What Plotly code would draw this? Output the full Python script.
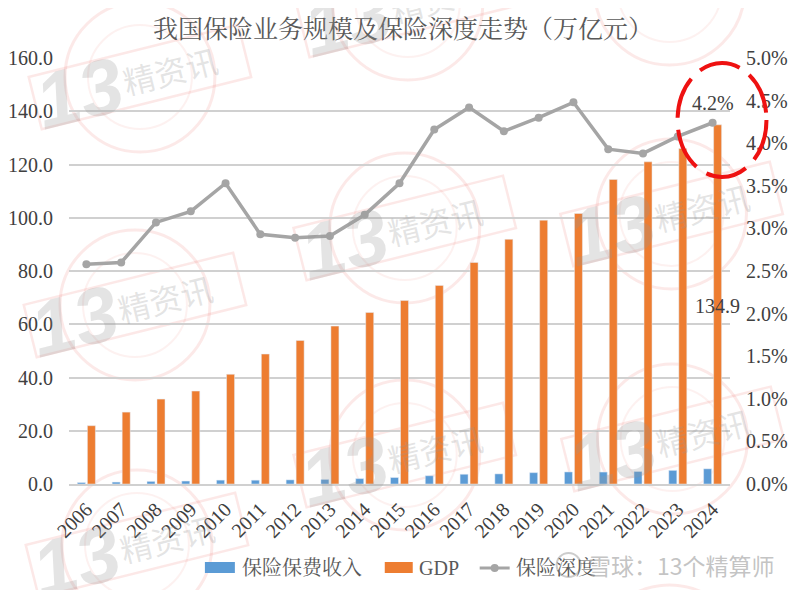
import math
import plotly.graph_objects as go

years = [str(y) for y in range(2006, 2025)]
premium = [0.56, 0.72, 0.98, 1.11, 1.45, 1.43, 1.55, 1.72, 2.02, 2.43, 3.10, 3.66, 3.80, 4.26, 4.53, 4.49, 4.70, 5.12, 5.70]
gdp = [21.9, 27.0, 31.9, 34.9, 41.2, 48.8, 53.9, 59.3, 64.4, 68.9, 74.6, 83.2, 91.9, 99.1, 101.6, 114.4, 121.0, 126.0, 134.9]
depth = [2.58, 2.60, 3.07, 3.20, 3.53, 2.93, 2.89, 2.91, 3.16, 3.53, 4.16, 4.42, 4.14, 4.30, 4.48, 3.93, 3.88, 4.08, 4.24]

left_ticks = [0, 20, 40, 60, 80, 100, 120, 140, 160]
right_ticks = [0, 0.5, 1, 1.5, 2, 2.5, 3, 3.5, 4, 4.5, 5]
right_labels = ["0.0%", "0.5%", "1.0%", "1.5%", "2.0%", "2.5%", "3.0%", "3.5%", "4.0%", "4.5%", "5.0%"]

BLUE, ORANGE, GREY = "#5b9bd5", "#ed7d31", "#a5a5a5"

# 页面 body 有 8px 的边距，所以图比窗口小一点
W, H = 792, 582
LATIN = "Liberation Serif, Noto Serif CJK SC, Noto Sans CJK SC"

# 绘图区（窗口像素）
X0, X1, Y0, Y1 = 69, 730.5, 58, 484


def px(x):
    return (x - X0) / (X1 - X0)


def py(y):
    return (Y1 - y) / (Y1 - Y0)


# 水印：每个印章 = 圆 + 倾斜矩形 + "13" + 精资讯
stamps = [(140, 77), (408, 5), (405, 228), (672, 214), (135, 305), (405, 455), (673, 439), (137, 545)]
# 这两个几乎都在画面外，只留圆
arcs_only = [(670, -10), (670, 660)]
TILT = -14
shapes = []
annos = []


def add_circles(cx, cy):
    shapes.append(dict(type="circle", xref="paper", yref="paper", layer="below",
                       x0=px(cx - 75), x1=px(cx + 75), y0=py(cy - 75), y1=py(cy + 75),
                       line=dict(color="rgba(235,120,110,0.16)", width=3)))
    shapes.append(dict(type="circle", xref="paper", yref="paper", layer="below",
                       x0=px(cx - 52), x1=px(cx + 52), y0=py(cy - 52), y1=py(cy + 52),
                       line=dict(color="rgba(235,120,110,0.10)", width=2)))


for cx, cy in arcs_only:
    add_circles(cx, cy)

for cx, cy in stamps:
    add_circles(cx, cy)
    corners = [(-108, -27), (108, -27), (108, 27), (-108, 27)]
    a = math.radians(TILT)
    pts = [(cx + u * math.cos(a) - v * math.sin(a), cy + u * math.sin(a) + v * math.cos(a)) for u, v in corners]
    path = "M " + " L ".join(f"{px(p[0]):.4f},{py(p[1]):.4f}" for p in pts) + " Z"
    shapes.append(dict(type="path", path=path, xref="paper", yref="paper", layer="below",
                       line=dict(color="rgba(235,120,110,0.17)", width=2.5)))
    annos.append(dict(text="<b><i>13</i></b>", xref="paper", yref="paper", x=px(cx - 60), y=py(cy + 16),
                      xanchor="center", yanchor="middle", showarrow=False, textangle=TILT,
                      font=dict(size=78, family="Liberation Sans", color="rgba(150,150,150,0.26)")))
    annos.append(dict(text="精资讯", xref="paper", yref="paper", x=px(cx + 30), y=py(cy - 7),
                      xanchor="center", yanchor="middle", showarrow=False, textangle=TILT,
                      font=dict(size=32, family="Noto Sans CJK SC", color="rgba(150,150,150,0.26)")))

fig = go.Figure()
fig.add_trace(go.Bar(x=years, y=premium, name="保险保费收入", marker=dict(color=BLUE)))
fig.add_trace(go.Bar(x=years, y=gdp, name="GDP", marker=dict(color=ORANGE)))
fig.add_trace(go.Scatter(x=years, y=depth, name="保险深度", yaxis="y2", mode="lines+markers",
                         line=dict(color=GREY, width=3.5), marker=dict(color=GREY, size=8)))

# 两个数据标签（类别轴上 annotation 的 x 用序号）
last = len(years) - 1
annos.append(dict(text="4.2%", x=last, y=depth[-1], xref="x", yref="y2", yshift=20, showarrow=False,
                  font=dict(size=20, family=LATIN, color="#404040")))
annos.append(dict(text="134.9", x=last, y=67, xref="x", yref="y", xshift=5, showarrow=False,
                  font=dict(size=20, family=LATIN, color="#404040")))

# 图例自己画：原生图例的柱子色块太小
LEG_Y = 568
for x_a, x_b, col in [(205, 235, BLUE), (385, 413, ORANGE)]:
    shapes.append(dict(type="rect", xref="paper", yref="paper", x0=px(x_a), x1=px(x_b), y0=py(LEG_Y - 6), y1=py(LEG_Y + 5),
                       fillcolor=col, line=dict(width=0)))
shapes.append(dict(type="line", xref="paper", yref="paper", x0=px(480), x1=px(510), y0=py(LEG_Y), y1=py(LEG_Y),
                   line=dict(color=GREY, width=3)))
shapes.append(dict(type="circle", xref="paper", yref="paper", x0=px(491), x1=px(499), y0=py(LEG_Y - 4), y1=py(LEG_Y + 4),
                   fillcolor=GREY, line=dict(width=0)))
for name, x_text in [("保险保费收入", 240), ("GDP", 417), ("保险深度", 514)]:
    annos.append(dict(text=name, xref="paper", yref="paper", x=px(x_text), y=py(LEG_Y), xanchor="left", yanchor="middle",
                      showarrow=False, font=dict(size=20, family=LATIN, color="#595959")))

# 雪球水印
annos.append(dict(text="雪球：13个精算师", xref="paper", yref="paper", x=px(778), y=py(565), xanchor="right", yanchor="middle",
                  showarrow=False, font=dict(size=23, family="Noto Sans CJK SC", color="rgba(170,170,170,0.7)")))
shapes.append(dict(type="circle", xref="paper", yref="paper", x0=px(557), x1=px(581), y0=py(553), y1=py(577),
                   line=dict(color="rgba(170,170,170,0.6)", width=2)))

# 红色虚线圈
shapes.append(dict(type="circle", xref="paper", yref="paper", layer="above",
                   x0=px(678), x1=px(767), y0=py(63), y1=py(177),
                   line=dict(color="#ee1111", width=4, dash="42px,12px")))

fig.update_layout(
    width=W, height=H,
    title=dict(text="我国保险业务规模及保险深度走势（万亿元）", x=(403 - 8) / W, xanchor="center", y=1 - (29 - 8) / H, yanchor="middle",
               font=dict(size=25, family=LATIN, color="#595959")),
    margin=dict(l=X0 - 8, r=W - (X1 - 8), t=Y0 - 8, b=H - (Y1 - 8), autoexpand=False),
    paper_bgcolor="white", plot_bgcolor="rgba(0,0,0,0)",
    barmode="group", bargap=0.425, bargroupgap=0.2,
    showlegend=False,
    font=dict(family=LATIN, color="#404040", size=20),
    xaxis=dict(type="category", range=[-0.5, last + 0.5], tickangle=-45, showgrid=False, showline=True, linecolor="#d0d0d0", linewidth=1.5, ticks="",
               ticklabelstandoff=4, tickfont=dict(size=20, color="#404040")),
    yaxis=dict(range=[0, 160], tickvals=left_ticks, tickformat=".1f", showgrid=True, gridcolor="#d0d0d0", gridwidth=1.5,
               zeroline=False, ticklabelstandoff=15, tickfont=dict(size=20, color="#404040")),
    yaxis2=dict(range=[0, 5], overlaying="y", side="right", tickvals=right_ticks, ticktext=right_labels,
                showgrid=False, zeroline=False, ticklabelstandoff=15, tickfont=dict(size=20, color="#404040")),
    shapes=shapes,
    annotations=annos,
)

fig.write_html("out.html")
